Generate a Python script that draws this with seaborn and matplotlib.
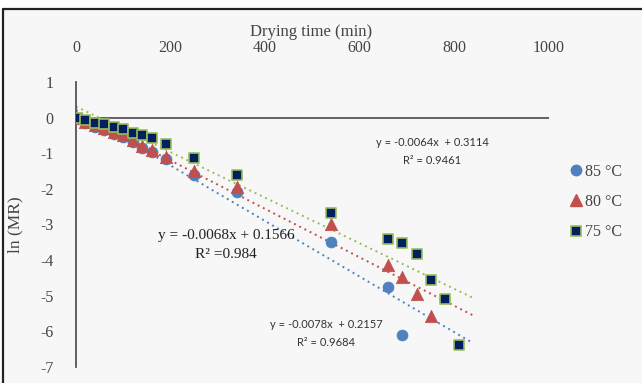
import matplotlib
matplotlib.use("Agg")
import matplotlib.pyplot as plt
from matplotlib.lines import Line2D
from matplotlib.patches import Rectangle
import numpy as np
import pandas as pd
import seaborn as sns

sns.set_theme(style="white")
plt.rcParams["font.family"] = ["Liberation Serif", "DejaVu Serif"]

# Drying time (min) and ln(MR) for each drying temperature
time_85 = [0, 20, 40, 60, 80, 100, 120, 140, 160, 190, 250, 340, 540, 660, 690]
lnmr_85 = [0, -0.15, -0.26, -0.35, -0.45, -0.55, -0.68, -0.86, -0.96, -1.16, -1.60, -2.08, -3.48, -4.76, -6.10]

time_80 = [0, 20, 40, 60, 80, 100, 120, 140, 160, 190, 250, 340, 540, 660, 690, 720, 750]
lnmr_80 = [0, -0.12, -0.22, -0.30, -0.40, -0.50, -0.62, -0.80, -0.90, -1.10, -1.50, -1.95, -2.98, -4.15, -4.48, -4.96, -5.57]

time_75 = [0, 20, 40, 60, 80, 100, 120, 140, 160, 190, 250, 340, 540, 660, 690, 720, 750, 780, 810]
lnmr_75 = [0, -0.08, -0.14, -0.19, -0.26, -0.33, -0.42, -0.50, -0.58, -0.75, -1.12, -1.60, -2.67, -3.40, -3.51, -3.82, -4.57, -5.10, -6.38]

# Linear trend lines (slope, intercept, R²)
slopes = [-0.0078, -0.0068, -0.0064]
intercepts = [0.2157, 0.1566, 0.3114]
r_squared = ["0.9684", "0.984", "0.9461"]
series_labels = ["85 °C", "80 °C", "75 °C"]

x_ticks = [0, 200, 400, 600, 800, 1000]
y_ticks = [1, 0, -1, -2, -3, -4, -5, -6, -7]

fig = plt.figure(figsize=(6.42, 3.83), dpi=100)
fig.patch.set_facecolor("white")
# chart area panel with top and left frame lines
fig.patches.append(Rectangle((3 / 642, 0), 1, 1 - 9 / 383, transform=fig.transFigure,
                             facecolor="#f7f7f7", edgecolor="none", zorder=-10))
fig.add_artist(Line2D([3 / 642, 1], [1 - 9 / 383] * 2, transform=fig.transFigure,
                      color="#222222", lw=1.6))
fig.add_artist(Line2D([3 / 642] * 2, [0, 1 - 9 / 383], transform=fig.transFigure,
                      color="#222222", lw=1.6))

ax = fig.add_axes([76 / 642, 16 / 383, 473 / 642, 285 / 383])
ax.set_facecolor("none")

blue, red, green, navy = "#4f81bd", "#c0504d", "#9bbb59", "#002060"

# trend lines
x_fit = np.array([0, 840])
for m, b, col in zip(slopes, intercepts, [blue, red, green]):
    ax.plot(x_fit, m * x_fit + b, linestyle=(0, (1, 2)), color=col, lw=1.4, zorder=2)

df85 = pd.DataFrame({"t": time_85, "v": lnmr_85})
df80 = pd.DataFrame({"t": time_80, "v": lnmr_80})
df75 = pd.DataFrame({"t": time_75, "v": lnmr_75})
sns.scatterplot(data=df85, x="t", y="v", ax=ax, marker="o", s=62, color=blue,
                edgecolor=blue, linewidth=0.5, zorder=3)
sns.scatterplot(data=df80, x="t", y="v", ax=ax, marker="^", s=80, color=red,
                edgecolor=red, linewidth=0.5, zorder=4)
sns.scatterplot(data=df75, x="t", y="v", ax=ax, marker="s", s=58, color=navy,
                edgecolor=green, linewidth=1.2, zorder=5)

ax.set_xlim(0, 1000)
ax.set_ylim(-7, 1)
ax.set_xticks(x_ticks)
ax.set_xticklabels([str(v) for v in x_ticks])
ax.set_yticks(y_ticks)
ax.set_yticklabels([str(v) for v in y_ticks])
ax.xaxis.tick_top()
ax.xaxis.set_label_position("top")
ax.tick_params(axis="x", length=0, pad=19, labelsize=11.5, colors="#444444")
ax.tick_params(axis="y", length=0, pad=16, labelsize=11.5, colors="#444444")
for side in ["top", "right", "bottom"]:
    ax.spines[side].set_visible(False)
ax.spines["left"].set_color("#555555")
ax.spines["left"].set_linewidth(1.3)
ax.axhline(0, color="#555555", lw=1.3, zorder=1)

ax.set_xlabel("Drying time (min)", fontsize=12, color="#444444")
ax.set_ylabel("ln (MR)", fontsize=12.5, color="#444444", labelpad=12)
ax.xaxis.set_label_coords(0.497, 1.147)
ax.xaxis.label.set_verticalalignment("bottom")

# regression equations
sans = ["Lato", "DejaVu Sans"]
ax.text(432 / 642, 1 - 142 / 383, f"y = {slopes[2]}x  + {intercepts[2]}", transform=fig.transFigure,
        ha="center", va="center", fontsize=8, family=sans, color="#333333")
ax.text(432 / 642, 1 - 161 / 383, f"R² = {r_squared[2]}", transform=fig.transFigure,
        ha="center", va="center", fontsize=8, family=sans, color="#333333")
ax.text(226 / 642, 1 - 236 / 383, f"y = {slopes[1]}x + {intercepts[1]}", transform=fig.transFigure,
        ha="center", va="center", fontsize=11, color="#222222")
ax.text(226 / 642, 1 - 255 / 383, f"R² ={r_squared[1]}", transform=fig.transFigure,
        ha="center", va="center", fontsize=11, color="#222222")
ax.text(326 / 642, 1 - 325 / 383, f"y = {slopes[0]}x  + {intercepts[0]}", transform=fig.transFigure,
        ha="center", va="center", fontsize=8, family=sans, color="#333333")
ax.text(326 / 642, 1 - 343 / 383, f"R² = {r_squared[0]}", transform=fig.transFigure,
        ha="center", va="center", fontsize=8, family=sans, color="#333333")

handles = [
    Line2D([], [], marker="o", ls="none", color=blue, markersize=7.5),
    Line2D([], [], marker="^", ls="none", color=red, markersize=8.5),
    Line2D([], [], marker="s", ls="none", markerfacecolor=navy, markeredgecolor=green,
           markeredgewidth=1.2, markersize=7),
]
leg = fig.legend(handles, series_labels, loc="center left", bbox_to_anchor=(558 / 642, 1 - 202 / 383),
                 frameon=False, fontsize=11.5, handletextpad=0.0, labelspacing=0.9,
                 handlelength=1.2, borderpad=0)
for t in leg.get_texts():
    t.set_color("#444444")

fig.savefig("out.png", dpi=100)
